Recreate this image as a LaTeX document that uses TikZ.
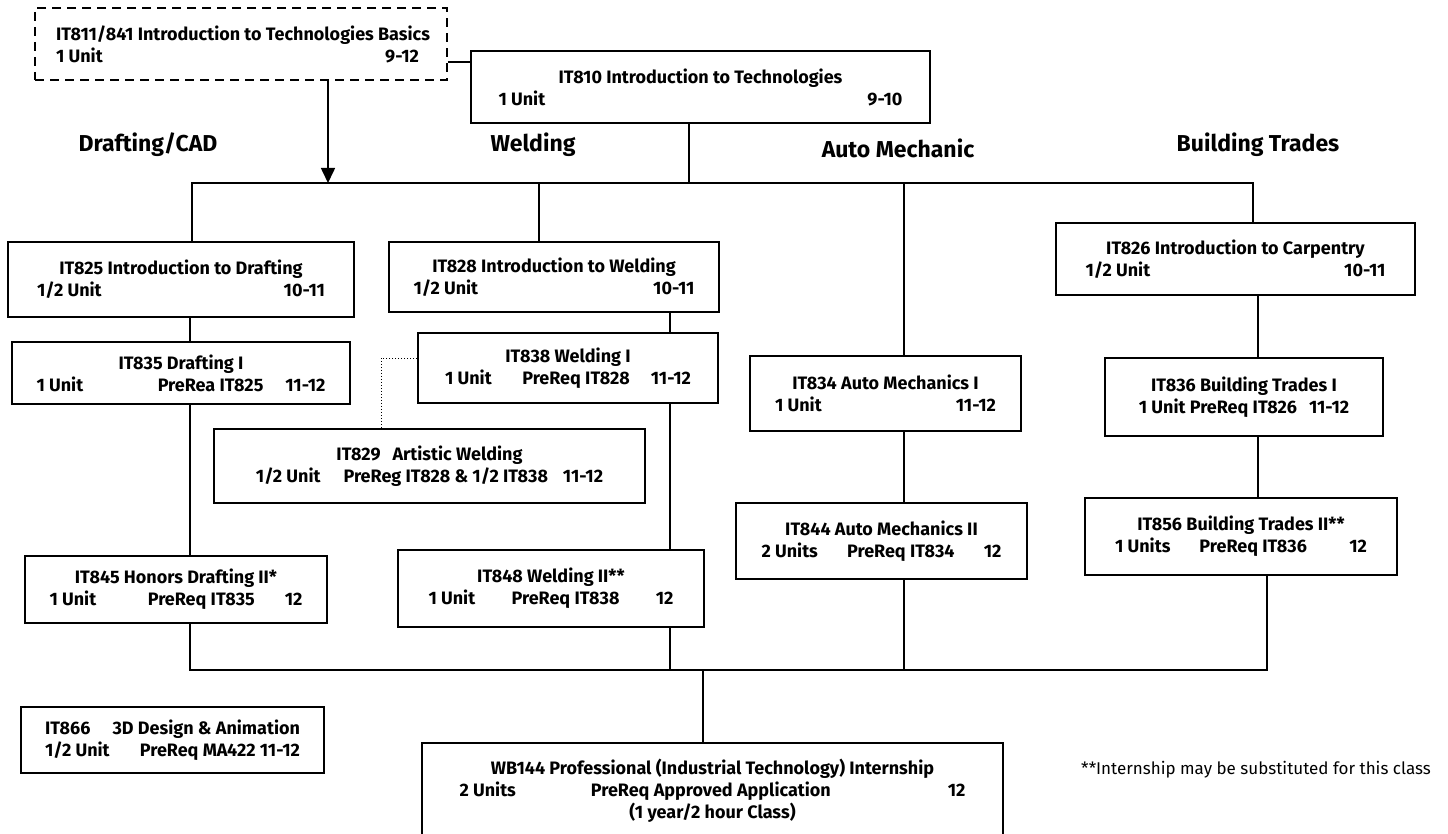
\documentclass[tikz,border=0pt]{standalone}
\usepackage{fontspec}
\setmainfont{Fira Sans}
\usepackage{tikz}
\usetikzlibrary{arrows.meta}

\newcommand{\spread}[3]{\makebox[#1pt]{#2\hfill #3}}

\begin{document}
\begin{tikzpicture}[x=1pt, y=-1pt,
    course/.style={draw, line width=1.6pt, align=center, inner sep=0pt,
      font=\fontsize{18}{22}\selectfont\bfseries},
    track/.style={font=\fontsize{23}{26}\selectfont\bfseries},
    link/.style={line width=1.6pt}]
  \useasboundingbox (0,0) rectangle (1448,834);

  \node[course, dash pattern=on 9pt off 6pt, minimum width=412, minimum height=72] (it811) at (241,44)
    {\makebox[370pt][l]{IT811/841 Introduction to Technologies Basics}\\
     \makebox[370pt][l]{\spread{363}{1 Unit}{9-12}}};
  \node[course, minimum width=459, minimum height=72] (it810) at (700.5,87)
    {IT810 Introduction to Technologies\\ \spread{404}{1 Unit}{9-10}};

  \node[track] (drafting) at (148,145) {Drafting/CAD};
  \node[track] (welding) at (533,145) {Welding};
  \node[track] (auto) at (898,148) {Auto Mechanic};
  \node[track] (building) at (1258,145) {Building Trades};

  \node[course, minimum width=346, minimum height=75] (it825) at (181,279.5)
    {IT825 Introduction to Drafting\\ \spread{288}{1/2 Unit}{10-11}};
  \node[course, minimum width=330, minimum height=70] (it828) at (554,277)
    {IT828 Introduction to Welding\\ \spread{281}{1/2 Unit}{10-11}};
  \node[course, minimum width=359, minimum height=72] (it826) at (1235.5,259)
    {IT826 Introduction to Carpentry\\ \spread{300}{1/2 Unit}{10-11}};

  \node[course, minimum width=338, minimum height=62] (it835) at (181,373)
    {IT835 Drafting I\\ \spread{289}{1 Unit}{PreRea IT825\hspace{22pt}11-12}};
  \node[course, minimum width=300, minimum height=70] (it838) at (568,368)
    {IT838 Welding I\\ \spread{246}{1 Unit}{PreReq IT828\hspace{21pt}11-12}};
  \node[course, minimum width=431, minimum height=74] (it829) at (429.5,466)
    {IT829\hspace{12pt}Artistic Welding\\
     1/2 Unit\hspace{23pt}PreReg IT828 \& 1/2 IT838\hspace{15pt}11-12};
  \node[course, minimum width=271, minimum height=75] (it834) at (885.5,393.5)
    {IT834 Auto Mechanics I\\ \spread{221}{1 Unit}{11-12}};
  \node[course, minimum width=278, minimum height=78] (it836) at (1244,397)
    {IT836 Building Trades I\\ 1 Unit PreReq IT826\hspace{12pt}11-12};

  \node[course, minimum width=291, minimum height=76] (it844) at (881.5,541)
    {IT844 Auto Mechanics II\\ \makebox[240pt]{2 Units\hfill PreReq IT834\hfill 12}};
  \node[course, minimum width=312, minimum height=77] (it856) at (1241,536.5)
    {IT856 Building Trades II**\\ \spread{252}{1 Units\hspace{29pt}PreReq IT836}{12}};
  \node[course, minimum width=302, minimum height=67] (it845) at (176,589.5)
    {IT845 Honors Drafting II*\\ \spread{253}{1 Unit}{PreReq IT835\hspace{30pt}12}};
  \node[course, minimum width=306, minimum height=77] (it848) at (551,588.5)
    {IT848 Welding II**\\ \makebox[245pt]{1 Unit\hfill PreReq IT838\hfill 12}};

  \node[course, minimum width=303, minimum height=66] (it866) at (172.5,740)
    {\spread{255}{IT866}{3D Design \& Animation}\\ \spread{255}{1/2 Unit}{PreReq MA422 11-12}};
  \node[course, minimum width=581, minimum height=96] (wb144) at (712.5,791)
    {WB144 Professional (Industrial Technology) Internship\\
     \spread{506}{2 Units\hspace{75pt}PreReq Approved Application}{12}\\
     (1 year/2 hour Class)};

  \node[font=\fontsize{17}{20}\selectfont] (note) at (1256,770)
    {**Internship may be substituted for this class};

  \coordinate (arr) at (328,183);
  \coordinate (b1) at (192,183);
  \coordinate (b2) at (1253,183);
  \coordinate (jt) at (689,183);
  \coordinate (jw) at (539,183);
  \coordinate (ja) at (904,183);
  \coordinate (jl) at (670,0);
  \coordinate (jb) at (1258,0);
  \coordinate (dot) at (381,358);
  \coordinate (c1) at (190,670);
  \coordinate (c2) at (1267,670);
  \coordinate (jwb) at (703,670);

  \draw[link] (it811.-5.8) -- (it811.-5.8 -| it810.west);
  \draw[link, -{Triangle[length=15pt, width=14pt]}] (arr |- it811.south) -- (arr);
  \draw[link] (it810.south -| jt) -- (jt);
  \draw[link] (b1 |- it825.north) -- (b1) -- (b2) -- (b2 |- it826.north);
  \draw[link] (jw) -- (jw |- it828.north);
  \draw[link] (ja) -- (ja |- it834.north);

  \draw[link] (it825.south -| c1) -- (it835.north -| c1);
  \draw[link] (it835.south -| c1) -- (it845.north -| c1);
  \draw[link] (it828.south -| jl) -- (it838.north -| jl);
  \draw[link] (it838.south -| jl) -- (it848.north -| jl);
  \draw[link] (it834.south -| ja) -- (it844.north -| ja);
  \draw[link] (it826.south -| jb) -- (it836.north -| jb);
  \draw[link] (it836.south -| jb) -- (it856.north -| jb);
  \draw[line width=1pt, dotted] (it838.west |- dot) -- (dot) -- (dot |- it829.north);

  \draw[link] (it845.south -| c1) -- (c1) -- (c2) -- (c2 |- it856.south);
  \draw[link] (it848.south -| jl) -- (jl |- c1);
  \draw[link] (it844.south -| ja) -- (ja |- c1);
  \draw[link] (jwb) -- (jwb |- wb144.north);
\end{tikzpicture}
\end{document}
